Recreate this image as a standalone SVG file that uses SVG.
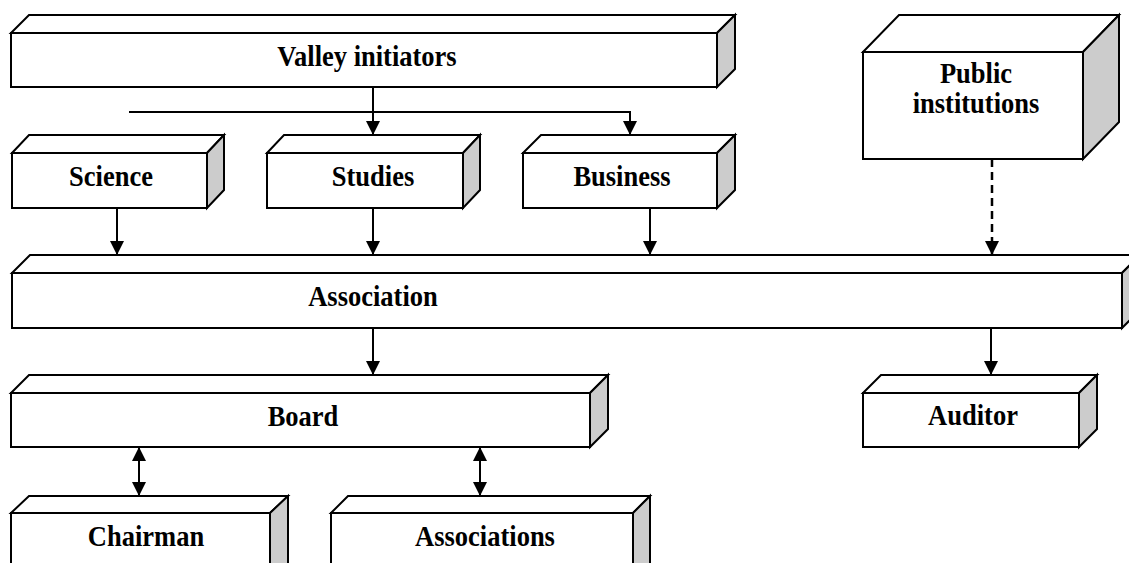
<svg xmlns="http://www.w3.org/2000/svg" width="1129" height="563" viewBox="0 0 1129 563">
<style>
.f{fill:#fff;stroke:#000;stroke-width:2;stroke-linejoin:miter}
.s{fill:#cccccc;stroke:#000;stroke-width:2}
.t{font-family:"Liberation Serif","Times New Roman",serif;font-weight:bold;font-size:26.5px;text-anchor:middle;fill:#000}
.c{fill:none;stroke:#000;stroke-width:2}
.d{fill:none;stroke:#000;stroke-width:2.5;stroke-dasharray:8 5}
</style>
<defs>
<marker id="ah" viewBox="0 0 14 14" refX="14" refY="7" markerWidth="14" markerHeight="14" markerUnits="userSpaceOnUse" orient="auto-start-reverse">
<path d="M0,0 L14,7 L0,14 Z" fill="#000"/>
</marker>
</defs>
<rect width="1129" height="563" fill="#fff"/>
<g id="valley">
<polygon class="f" points="11,33 29,15 735,15 717,33"/>
<polygon class="s" points="717,33 735,15 735,69 717,87"/>
<rect class="f" x="11" y="33" width="706" height="54"/>
<text class="t" transform="translate(367,66) scale(1,1.13)">Valley initiators</text>
</g>
<g id="science">
<polygon class="f" points="12,153 29,135 224,135 207,153"/>
<polygon class="s" points="207,153 224,135 224,190 207,208"/>
<rect class="f" x="12" y="153" width="195" height="55"/>
<text class="t" transform="translate(111,186) scale(1,1.13)">Science</text>
</g>
<g id="studies">
<polygon class="f" points="267,153 284,135 480,135 463,153"/>
<polygon class="s" points="463,153 480,135 480,190 463,208"/>
<rect class="f" x="267" y="153" width="196" height="55"/>
<text class="t" transform="translate(373,186) scale(1,1.13)">Studies</text>
</g>
<g id="business">
<polygon class="f" points="523,153 541,135 735,135 717,153"/>
<polygon class="s" points="717,153 735,135 735,190 717,208"/>
<rect class="f" x="523" y="153" width="194" height="55"/>
<text class="t" transform="translate(622,186) scale(1,1.13)">Business</text>
</g>
<g id="public">
<polygon class="f" points="863,52 899,15 1119,15 1083,52"/>
<polygon class="s" points="1083,52 1119,15 1119,122 1083,159"/>
<rect class="f" x="863" y="52" width="220" height="107"/>
<text class="t" transform="translate(976,83) scale(1,1.13)">Public</text>
<text class="t" transform="translate(976,113) scale(1,1.13)">institutions</text>
</g>
<g id="association">
<polygon class="f" points="12,273 30,255 1140,255 1122,273"/>
<polygon class="s" points="1122,273 1140,255 1140,310 1122,328"/>
<rect class="f" x="12" y="273" width="1110" height="55"/>
<text class="t" transform="translate(373,306) scale(1,1.13)">Association</text>
</g>
<g id="board">
<polygon class="f" points="11,393 29,375 608,375 590,393"/>
<polygon class="s" points="590,393 608,375 608,429 590,447"/>
<rect class="f" x="11" y="393" width="579" height="54"/>
<text class="t" transform="translate(303,426) scale(1,1.13)">Board</text>
</g>
<g id="auditor">
<polygon class="f" points="863,393 881,375 1097,375 1079,393"/>
<polygon class="s" points="1079,393 1097,375 1097,429 1079,447"/>
<rect class="f" x="863" y="393" width="216" height="54"/>
<text class="t" transform="translate(973,425) scale(1,1.13)">Auditor</text>
</g>
<g id="chairman">
<polygon class="f" points="11,513 29,496 288,496 270,513"/>
<polygon class="s" points="270,513 288,496 288,566 270,583"/>
<rect class="f" x="11" y="513" width="259" height="70"/>
<text class="t" transform="translate(146,546) scale(1,1.13)">Chairman</text>
</g>
<g id="associations">
<polygon class="f" points="331,513 348,496 650,496 633,513"/>
<polygon class="s" points="633,513 650,496 650,566 633,583"/>
<rect class="f" x="331" y="513" width="302" height="70"/>
<text class="t" transform="translate(485,546) scale(1,1.13)">Associations</text>
</g>
<g id="connectors">
<path class="c" d="M373,87 V135" marker-end="url(#ah)"/>
<path class="c" d="M129,112 H630 V135" marker-end="url(#ah)"/>
<path class="c" d="M117,208 V255" marker-end="url(#ah)"/>
<path class="c" d="M373,208 V255" marker-end="url(#ah)"/>
<path class="c" d="M650,208 V255" marker-end="url(#ah)"/>
<path class="d" d="M992,159 V255" marker-end="url(#ah)"/>
<path class="c" d="M373,328 V375" marker-end="url(#ah)"/>
<path class="c" d="M991,328 V375" marker-end="url(#ah)"/>
<path class="c" d="M139,447 V496" marker-start="url(#ah)" marker-end="url(#ah)"/>
<path class="c" d="M480,447 V496" marker-start="url(#ah)" marker-end="url(#ah)"/>
</g>
</svg>
